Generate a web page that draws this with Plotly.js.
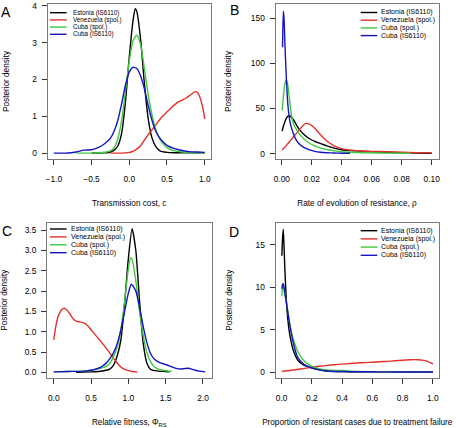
<!DOCTYPE html>
<html>
<head>
<meta charset="utf-8">
<script src="https://cdn.plot.ly/plotly-3.0.1.min.js"></script>
<style>html,body{margin:0;padding:0;background:#fff;}#chart{width:456px;height:428px;}</style>
</head>
<body>
<div id="chart"></div>
<script>
// ---------- DATA ----------
const seriesNames = ["Estonia (IS6110)", "Venezuela (spol.)", "Cuba (spol.)", "Cuba (IS6110)"];

// Panel A: transmission cost, c
const aEstX = [-0.5,-0.4,-0.3,-0.25,-0.2,-0.15,-0.1,-0.05,0.0,0.05,0.08,0.1,0.15,0.2,0.25,0.3,0.35,0.4,0.5,0.6,0.7,0.8,0.9,1.0];
const aEstY = [0,0.005,0.01,0.03,0.08,0.2,0.55,1.4,2.6,3.6,3.92,3.85,3.1,1.9,0.95,0.42,0.18,0.07,0.02,0.01,0.01,0.01,0.01,0.01];
const aVenX = [-0.25,-0.1,0.0,0.05,0.1,0.15,0.2,0.25,0.3,0.35,0.4,0.45,0.5,0.55,0.6,0.65,0.7,0.75,0.8,0.85,0.88,0.9,0.93,0.96,0.98,1.0];
const aVenY = [0,0,0.02,0.05,0.11,0.2,0.35,0.5,0.63,0.76,0.9,1.02,1.12,1.22,1.31,1.39,1.44,1.49,1.56,1.64,1.67,1.65,1.55,1.35,1.17,0.93];
const aCubSX = [-0.7,-0.5,-0.4,-0.3,-0.25,-0.2,-0.15,-0.1,-0.05,0.0,0.05,0.1,0.15,0.2,0.25,0.3,0.35,0.4,0.45,0.5,0.6,0.7,0.8,0.9,1.0];
const aCubSY = [0,0,0.01,0.03,0.06,0.15,0.4,0.9,1.7,2.5,3.05,3.2,2.95,2.3,1.6,1.05,0.65,0.4,0.25,0.15,0.06,0.03,0.02,0.01,0.01];
const aCubIX = [-1.0,-0.9,-0.8,-0.7,-0.6,-0.5,-0.45,-0.4,-0.35,-0.3,-0.25,-0.2,-0.15,-0.1,-0.05,0.0,0.05,0.1,0.15,0.2,0.25,0.3,0.35,0.4,0.45,0.5,0.6,0.7,0.8,0.9,1.0];
const aCubIY = [0,0,0.005,0.03,0.08,0.09,0.12,0.16,0.22,0.3,0.4,0.6,0.9,1.35,1.85,2.2,2.33,2.3,2.1,1.75,1.3,0.9,0.6,0.42,0.3,0.21,0.12,0.07,0.04,0.03,0.02];

// Panel B: rate of evolution of resistance, rho
const bEstX = [0.0002,0.001,0.002,0.003,0.004,0.005,0.006,0.008,0.010,0.012,0.015,0.018,0.022,0.026,0.03,0.035,0.04,0.05,0.06,0.07,0.08,0.09,0.1];
const bEstY = [25,30,35,39,41.5,42,41,37,31,26,21,17,13.5,11,8.5,6,4.3,3,2,1.4,0.9,0.6,0.4];
const bVenX = [0.0002,0.002,0.004,0.006,0.008,0.010,0.012,0.014,0.016,0.018,0.020,0.022,0.025,0.028,0.03,0.035,0.04,0.045,0.05,0.06,0.07,0.08,0.09,0.1];
const bVenY = [4,7,11,15,19,23,27,31,33.5,33,31,28,22.5,17,14,8.5,5.5,4,3.2,2.5,2,1.5,1.1,0.8];
const bCubSX = [0.0002,0.001,0.002,0.003,0.004,0.005,0.006,0.007,0.008,0.010,0.012,0.015,0.018,0.022,0.026,0.03,0.035,0.04,0.05,0.06,0.07,0.0857];
const bCubSY = [48,62,77,82,76,62,48,38,32,26,21,16,12,8.5,6,4.5,3,2,1.2,0.8,0.5,0.3];
const bCubIX = [0.0005,0.001,0.0015,0.002,0.003,0.004,0.005,0.006,0.008,0.010,0.012,0.015,0.018,0.022,0.026,0.03,0.035,0.04,0.0455];
const bCubIY = [118,158,150,125,85,55,40,31,21,14,10,6.5,4.5,2.5,1.5,1.0,0.6,0.4,0.3];

// Panel C: relative fitness, Phi_RS
const cEstX = [0.3,0.5,0.6,0.7,0.75,0.8,0.85,0.9,0.95,1.0,1.05,1.1,1.15,1.2,1.25,1.3,1.4,1.5,1.55];
const cEstY = [0,0.01,0.02,0.05,0.08,0.17,0.4,0.8,1.7,2.8,3.54,3.0,1.75,0.7,0.22,0.07,0.03,0.02,0.01];
const cVenX = [0.0,0.03,0.06,0.1,0.14,0.18,0.22,0.26,0.3,0.35,0.4,0.45,0.5,0.55,0.6,0.65,0.7,0.75,0.8,0.85,0.9,0.95,1.0,1.05,1.12];
const cVenY = [0.8,1.15,1.38,1.53,1.58,1.53,1.43,1.32,1.26,1.24,1.22,1.16,1.05,0.94,0.83,0.72,0.6,0.48,0.35,0.23,0.13,0.07,0.04,0.02,0.01];
const cCubSX = [0.0,0.2,0.4,0.5,0.6,0.7,0.75,0.8,0.85,0.9,0.95,1.0,1.03,1.05,1.1,1.15,1.2,1.25,1.3,1.35,1.4,1.5,1.58];
const cCubSY = [0.01,0.02,0.03,0.05,0.09,0.14,0.22,0.38,0.62,1.05,1.75,2.55,2.82,2.78,2.25,1.5,0.9,0.48,0.25,0.13,0.08,0.04,0.02];
const cCubIX = [0.0,0.2,0.4,0.5,0.55,0.6,0.65,0.7,0.75,0.8,0.85,0.9,0.95,1.0,1.04,1.1,1.15,1.2,1.25,1.3,1.35,1.4,1.45,1.5,1.55,1.6,1.65,1.7,1.75,1.8,1.85,1.9,1.95,2.03];
const cCubIY = [0.01,0.02,0.03,0.05,0.07,0.1,0.15,0.22,0.33,0.48,0.7,1.05,1.5,1.95,2.17,2.0,1.6,1.12,0.72,0.45,0.32,0.26,0.22,0.19,0.16,0.12,0.09,0.08,0.09,0.1,0.08,0.05,0.03,0.01];

// Panel D: proportion of resistant cases due to treatment failure
const dEstX = [0.001,0.005,0.01,0.015,0.02,0.025,0.03,0.04,0.05,0.06,0.07,0.08,0.1,0.12,0.15,0.2,0.25,0.3,0.4,0.5,0.7,1.0];
const dEstY = [13.7,15.5,16.8,15,12.5,10.5,8.7,6.3,4.8,3.8,3.0,2.4,1.6,1.15,0.8,0.5,0.28,0.15,0.07,0.05,0.04,0.03];
const dVenX = [0.0,0.05,0.1,0.15,0.2,0.25,0.3,0.35,0.4,0.45,0.5,0.55,0.6,0.65,0.7,0.75,0.8,0.85,0.88,0.9,0.93,0.96,1.0];
const dVenY = [0.1,0.2,0.32,0.45,0.58,0.7,0.8,0.88,0.95,1.02,1.08,1.13,1.18,1.23,1.28,1.34,1.4,1.46,1.48,1.47,1.42,1.3,0.98];
const dCubSX = [0.001,0.005,0.01,0.015,0.02,0.03,0.04,0.05,0.06,0.07,0.08,0.1,0.12,0.15,0.2,0.25,0.3,0.4,0.5,0.6,0.8,1.0];
const dCubSY = [9.0,9.8,10.2,9.9,9.3,8.3,7.2,6.1,5.1,4.3,3.7,2.7,2.0,1.3,0.7,0.4,0.27,0.2,0.1,0.07,0.04,0.03];
const dCubIX = [0.001,0.005,0.01,0.015,0.02,0.03,0.04,0.05,0.06,0.07,0.08,0.1,0.12,0.15,0.2,0.25,0.3,0.4,0.5,0.6,0.7,0.8,1.0];
const dCubIY = [9.8,10.3,10.4,10.0,9.4,8.3,7.1,5.9,4.9,4.0,3.2,2.0,1.4,0.9,0.5,0.28,0.15,0.08,0.05,0.05,0.04,0.03,0.03];

// Tick labels
const aXTicks = [-1.0,-0.5,0.0,0.5,1.0];
const aYTicks = [0,1,2,3,4];
const bXTicks = [0.00,0.02,0.04,0.06,0.08,0.10];
const bYTicks = [0,50,100,150];
const cXTicks = [0.0,0.5,1.0,1.5,2.0];
const cYTicks = [0.0,0.5,1.0,1.5,2.0,2.5,3.0,3.5];
const dXTicks = [0.0,0.2,0.4,0.6,0.8,1.0];
const dYTicks = [0,5,10,15];

const xTitles = ["Transmission cost, c", "Rate of evolution of resistance, ρ", "Relative fitness, Φ<sub>RS</sub>", "Proportion of resistant cases due to treatment failure"];
const yTitle = "Posterior density";
const panelLabels = ["A", "B", "C", "D"];

// ---------- STYLE ----------
const colors = ["#000000", "#e3302b", "#3ec93e", "#1414c0"];
const W = 456, H = 428;
const FONT = "Liberation Sans, Arial, Helvetica, sans-serif";

const panels = [
  {xs:[aEstX,aVenX,aCubSX,aCubIX], ys:[aEstY,aVenY,aCubSY,aCubIY], xt:aXTicks, yt:aYTicks, xf:".1f", yf:"d",
   xr:[-1.083,1.083], yr:[-0.16,4.05], box:[47.5,211,4,159], leg:{x:50,tx:71.5,y0:12.7,dy:7.2,fs:6.3}, lab:[6,12], ytStand:21},
  {xs:[bEstX,bVenX,bCubSX,bCubIX], ys:[bEstY,bVenY,bCubSY,bCubIY], xt:bXTicks, yt:bYTicks, xf:".2f", yf:"d",
   xr:[-0.0042,0.1045], yr:[-6,166], box:[275.5,438.5,4,159], leg:{x:360.7,tx:379.5,y0:12.5,dy:7.7,fs:7}, lab:[234,10], ytStand:17},
  {xs:[cEstX,cVenX,cCubSX,cCubIX], ys:[cEstY,cVenY,cCubSY,cCubIY], xt:cXTicks, yt:cYTicks, xf:".1f", yf:".1f",
   xr:[-0.09,2.114], yr:[-0.14,3.69], box:[47,211.5,222.5,378], leg:{x:50,tx:70,y0:229,dy:7.9,fs:7}, lab:[6.5,231], ytStand:18},
  {xs:[dEstX,dVenX,dCubSX,dCubIX], ys:[dEstY,dVenY,dCubSY,dCubIY], xt:dXTicks, yt:dYTicks, xf:".1f", yf:"d",
   xr:[-0.041,1.04], yr:[-0.68,17.6], box:[275.5,439,222.5,378], leg:{x:360.7,tx:379.5,y0:230.7,dy:8.2,fs:7}, lab:[234,232], ytStand:21}
];

const traces = [];
const annotations = [];
const shapes = [];
const layout = {
  width: W, height: H,
  margin: {l:0, r:0, t:0, b:0},
  paper_bgcolor: "#ffffff", plot_bgcolor: "#ffffff",
  showlegend: false,
  font: {family: FONT, size: 8.4, color: "#000"}
};

panels.forEach((p, i) => {
  const n = i + 1;
  const xa = "xaxis" + (n === 1 ? "" : n);
  const ya = "yaxis" + (n === 1 ? "" : n);
  const xref = "x" + (n === 1 ? "" : n);
  const yref = "y" + (n === 1 ? "" : n);
  for (let s = 0; s < 4; s++) {
    traces.push({
      type: "scatter", mode: "lines", x: p.xs[s], y: p.ys[s],
      xaxis: xref, yaxis: yref, name: seriesNames[s],
      line: {color: colors[s], width: 1.4, shape: "spline", smoothing: 0.6},
      hoverinfo: "skip"
    });
  }
  const [bx0, bx1, by0, by1] = p.box;
  const common = {
    showline: true, mirror: true, linecolor: "#7a7a7a", linewidth: 1,
    ticks: "outside", ticklen: 5, tickwidth: 1, tickcolor: "#333",
    showgrid: false, zeroline: false, fixedrange: true,
    tickfont: {family: FONT, size: 8.4, color: "#000"}
  };
  layout[xa] = Object.assign({}, common, {
    domain: [bx0 / W, bx1 / W], range: p.xr, anchor: yref,
    tickmode: "array", tickvals: p.xt, tickformat: p.xf, ticklabelstandoff: 7,
    title: {text: xTitles[i], font: {family: FONT, size: 8.2, color: "#000"}, standoff: 17}
  });
  layout[ya] = Object.assign({}, common, {
    domain: [1 - by1 / H, 1 - by0 / H], range: p.yr, anchor: xref,
    tickmode: "array", tickvals: p.yt, tickformat: p.yf, ticklabelstandoff: 3,
    title: {text: yTitle, font: {family: FONT, size: 8.2, color: "#000"}, standoff: p.ytStand}
  });
  // panel letter
  annotations.push({
    text: panelLabels[i], xref: "paper", yref: "paper",
    x: p.lab[0] / W, y: 1 - p.lab[1] / H, xanchor: "center", yanchor: "middle",
    showarrow: false, font: {family: FONT, size: 14, color: "#000"}
  });
  // legend (drawn manually to match tight R spacing)
  for (let s = 0; s < 4; s++) {
    const ly = p.leg.y0 + s * p.leg.dy;
    shapes.push({
      type: "line", xref: "paper", yref: "paper",
      x0: p.leg.x / W, x1: (p.leg.x + 16.6) / W, y0: 1 - ly / H, y1: 1 - ly / H,
      line: {color: colors[s], width: 1.4}
    });
    annotations.push({
      text: seriesNames[s], xref: "paper", yref: "paper",
      x: p.leg.tx / W, y: 1 - ly / H, xanchor: "left", yanchor: "middle",
      showarrow: false, borderpad: 0, font: {family: FONT, size: p.leg.fs, color: "#000"}
    });
  }
});

layout.annotations = annotations;
layout.shapes = shapes;

Plotly.newPlot("chart", traces, layout, {displayModeBar: false, staticPlot: true});
</script>
</body>
</html>
